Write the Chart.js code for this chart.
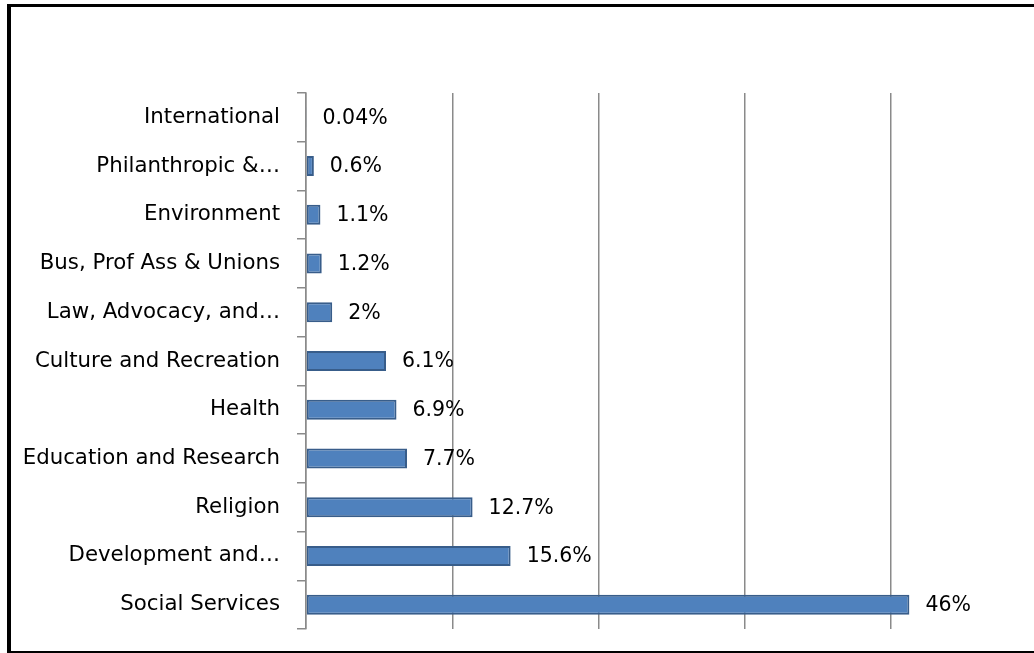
<!DOCTYPE html>
<html>
<head>
<meta charset="utf-8">
<script src="https://cdn.jsdelivr.net/npm/chart.js@4"></script>
<style>
html, body { margin: 0; padding: 0; background: #fff; overflow: hidden; }
canvas { display: block; }
</style>
</head>
<body>
<canvas id="c" width="1034" height="653"></canvas>
<script>
const categories = ['International', 'Philanthropic &…', 'Environment', 'Bus, Prof Ass & Unions', 'Law, Advocacy, and…', 'Culture and Recreation', 'Health', 'Education and Research', 'Religion', 'Development and…', 'Social Services'];
const values = [0.04, 0.6, 1.1, 1.2, 2, 6.1, 6.9, 7.7, 12.7, 15.6, 46];
const valueLabels = ['0.04%', '0.6%', '1.1%', '1.2%', '2%', '6.1%', '6.9%', '7.7%', '12.7%', '15.6%', '46%'];
const xTicks = [0, 11.15, 22.3, 33.45, 44.6];

const FONT = { family: 'DejaVu Sans', size: 21.3 };

const frame = {
  id: 'frame',
  beforeDraw(chart) {
    const ctx = chart.ctx;
    ctx.save();
    ctx.fillStyle = '#fff';
    ctx.fillRect(0, 0, chart.width, chart.height);
    ctx.restore();
  },
  afterDraw(chart) {
    const ctx = chart.ctx;
    ctx.save();
    ctx.fillStyle = '#000';
    ctx.fillRect(7, 4, chart.width, 3);
    ctx.fillRect(7, 4, 4, 649);
    ctx.fillRect(7, 651, chart.width, 2);
    ctx.restore();
  }
};

const valueLabelPlugin = {
  id: 'valueLabels',
  afterDatasetsDraw(chart) {
    const ctx = chart.ctx;
    const meta = chart.getDatasetMeta(0);
    ctx.save();
    ctx.font = '20.5px "' + FONT.family + '"';
    ctx.fillStyle = '#000';
    ctx.textAlign = 'left';
    ctx.textBaseline = 'middle';
    meta.data.forEach((bar, i) => {
      ctx.fillText(valueLabels[i], bar.x + 16, bar.y + 1);
    });
    ctx.restore();
  }
};

new Chart(document.getElementById('c'), {
  type: 'bar',
  data: {
    labels: categories,
    datasets: [{
      data: values,
      backgroundColor: '#4F81BD',
      borderColor: '#385D8A',
      borderWidth: 2,
      borderSkipped: false,
      barPercentage: 0.41,
      categoryPercentage: 1
    }]
  },
  options: {
    indexAxis: 'y',
    responsive: false,
    animation: false,
    devicePixelRatio: 1,
    layout: { padding: { top: 93, bottom: 24, left: 0, right: 0 } },
    plugins: { legend: { display: false }, tooltip: { enabled: false } },
    scales: {
      x: {
        min: 0,
        max: 55.5,
        afterBuildTicks: s => { s.ticks = xTicks.map(v => ({ value: v })); },
        afterFit: s => { s.height = 0; s.paddingLeft = 0; s.paddingRight = 0; },
        ticks: { display: false },
        border: { display: false },
        grid: { color: '#8a8a8a', lineWidth: 1.5, drawTicks: false }
      },
      y: {
        afterFit: s => { s.width = 306; s.paddingTop = 0; s.paddingBottom = 0; },
        border: { display: true, color: '#8a8a8a', width: 1.5 },
        grid: { offset: true, drawOnChartArea: false, tickLength: 9, color: '#8a8a8a', lineWidth: 1.5 },
        ticks: { autoSkip: false, padding: 17, color: '#000', font: FONT }
      }
    }
  },
  plugins: [frame, valueLabelPlugin]
});
</script>
</body>
</html>
